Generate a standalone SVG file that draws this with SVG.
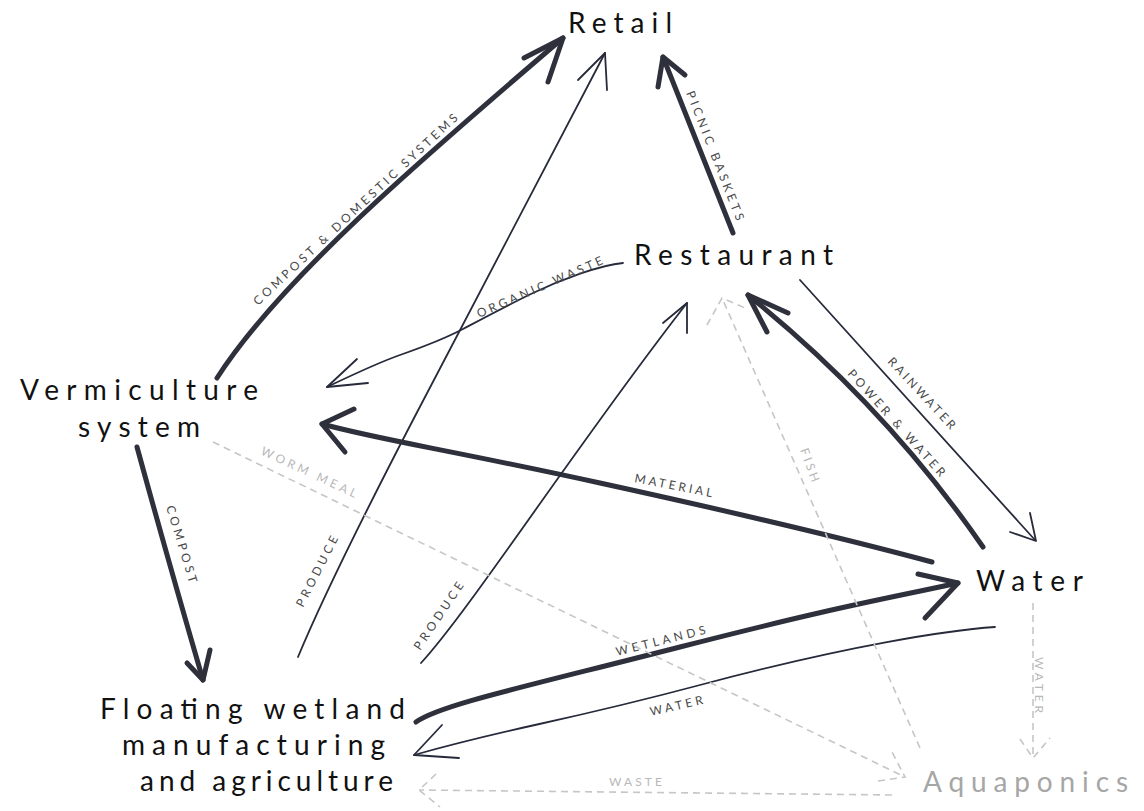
<svg xmlns="http://www.w3.org/2000/svg" width="1144" height="811" viewBox="0 0 1144 811">
<style>
.node{font-family:Lato,"Open Sans","Liberation Sans",sans-serif;font-size:28px;fill:#111}
.aqua{fill:#a6a6a6}
.lbl{font-family:Lato,"Open Sans","Liberation Sans",sans-serif;font-size:12px;fill:#4a4a4a}
.dlbl{font-family:Lato,"Open Sans","Liberation Sans",sans-serif;font-size:12px;fill:#b8b8b8}
.thick{fill:none;stroke:#2e303c;stroke-width:5;stroke-linecap:round;stroke-linejoin:round}
.thin{fill:none;stroke:#262a3a;stroke-width:1.8;stroke-linecap:round;stroke-linejoin:round}
.dash{fill:none;stroke:#c6c6c6;stroke-width:1.6;stroke-dasharray:7 5}
</style>
<rect width="1144" height="811" fill="#ffffff"/>
<g id="connectors">
  <g id="c-compost-domestic">
    <path class="thick" d="M217,378 C280,280 420,160 563,38"/>
    <path class="thick" d="M524,58 L563,38 L548,82"/>
    <text class="lbl" transform="translate(258,306) rotate(-43)" textLength="274" lengthAdjust="spacing">COMPOST &amp; DOMESTIC SYSTEMS</text>
  </g>
  <g id="c-produce-retail">
    <path class="thin" d="M298,657 Q330,580 413,420 T605,53"/>
    <path class="thin" d="M578,80 L605,53 L607,90"/>
    <text class="lbl" transform="translate(303,608) rotate(-63)" textLength="78" lengthAdjust="spacing">PRODUCE</text>
  </g>
  <g id="c-picnic">
    <path class="thick" d="M733,233 L663,57"/>
    <path class="thick" d="M658,87 L663,57 L685,75"/>
    <text class="lbl" transform="translate(686,93) rotate(68.5)" textLength="138" lengthAdjust="spacing">PICNIC BASKETS</text>
  </g>
  <g id="c-organic">
    <path class="thin" d="M623,263 C600,265 560,280 533,293 S480,320 463,329 S420,348 400,355 S350,376 327,387"/>
    <path class="thin" d="M357,359 L327,387 L368,383"/>
    <text class="lbl" transform="translate(479,318) rotate(-23.5)" textLength="136" lengthAdjust="spacing">ORGANIC WASTE</text>
  </g>
  <g id="c-rainwater">
    <path class="thin" d="M800,280 L1035,540"/>
    <path class="thin" d="M1030,513 L1036,541 L1010,532"/>
    <text class="lbl" transform="translate(887,362) rotate(47)" textLength="93" lengthAdjust="spacing">RAINWATER</text>
  </g>
  <g id="c-power">
    <path class="thick" d="M983,547 Q885,405 748,295"/>
    <path class="thick" d="M788,313 L748,295 L767,332"/>
    <text class="lbl" transform="translate(847,374) rotate(48)" textLength="139" lengthAdjust="spacing">POWER &amp; WATER</text>
  </g>
  <g id="c-material">
    <path class="thick" d="M932,562 C880,548 760,518 600,483 S380,440 322,424"/>
    <path class="thick" d="M354,409 L322,424 L345,452"/>
    <text class="lbl" transform="translate(634,482) rotate(11)" textLength="79" lengthAdjust="spacing">MATERIAL</text>
  </g>
  <g id="c-compost">
    <path class="thick" d="M137,447 Q168,560 203,680"/>
    <path class="thick" d="M187,663 L203,680 L210,650"/>
    <text class="lbl" transform="translate(166,507) rotate(73)" textLength="80" lengthAdjust="spacing">COMPOST</text>
  </g>
  <g id="c-wetlands">
    <path class="thick" d="M416,722 C440,705 520,688 680,647 S880,600 958,583"/>
    <path class="thick" d="M918,574 L958,583 L925,618"/>
    <text class="lbl" transform="translate(617,656) rotate(-14)" textLength="92" lengthAdjust="spacing">WETLANDS</text>
  </g>
  <g id="c-water-floating">
    <path class="thin" d="M995,627 C950,630 850,645 700,685 S520,725 414,755"/>
    <path class="thin" d="M442,725 L414,755 L459,758"/>
    <text class="lbl" transform="translate(651,716) rotate(-13)" textLength="54" lengthAdjust="spacing">WATER</text>
  </g>
  <g id="c-produce-restaurant">
    <path class="thin" d="M421,663 C470,610 580,440 687,303"/>
    <path class="thin" d="M663,323 L687,303 L687,333"/>
    <text class="lbl" transform="translate(420,651) rotate(-56)" textLength="79" lengthAdjust="spacing">PRODUCE</text>
  </g>
  <g id="c-wormmeal">
    <path class="dash" d="M213,442 L905,777"/>
    <path class="dash" d="M878,781 L905,777 L892,752"/>
    <text class="dlbl" transform="translate(260,454) rotate(25)" textLength="104" lengthAdjust="spacing">WORM MEAL</text>
  </g>
  <g id="c-fish">
    <path class="dash" d="M920,748 L722,298"/>
    <path class="dash" d="M707,325 L722,298 L745,308"/>
    <text class="dlbl" transform="translate(800,450) rotate(70)" textLength="35" lengthAdjust="spacing">FISH</text>
  </g>
  <g id="c-water-aqua">
    <path class="dash" d="M1033,603 L1033,758"/>
    <path class="dash" d="M1020,739 L1033,758 L1050,738"/>
    <text class="dlbl" transform="translate(1035,657) rotate(90)" textLength="56" lengthAdjust="spacing">WATER</text>
  </g>
  <g id="c-waste">
    <path class="dash" d="M892,795 L419,790"/>
    <path class="dash" d="M436,774 L419,790 L440,807"/>
    <text class="dlbl" x="609" y="786" textLength="53" lengthAdjust="spacing">WASTE</text>
  </g>
</g>
<g id="node-retail"><text class="node" x="568" y="33" textLength="104" lengthAdjust="spacing">Retail</text></g>
<g id="node-restaurant"><text class="node" x="634" y="265" textLength="199" lengthAdjust="spacing">Restaurant</text></g>
<g id="node-vermiculture">
  <text class="node" x="20" y="400" textLength="238" lengthAdjust="spacing">Vermiculture</text>
  <text class="node" x="78" y="437" textLength="122" lengthAdjust="spacing">system</text>
</g>
<g id="node-water"><text class="node" x="976" y="591" textLength="107" lengthAdjust="spacing">Water</text></g>
<g id="node-floating">
  <text class="node" x="100" y="719" textLength="305" lengthAdjust="spacing">Floating wetland</text>
  <text class="node" x="122" y="755" textLength="263" lengthAdjust="spacing">manufacturing</text>
  <text class="node" x="140" y="791" textLength="253" lengthAdjust="spacing">and agriculture</text>
</g>
<g id="node-aquaponics"><text class="node aqua" x="923" y="792" textLength="205" lengthAdjust="spacing">Aquaponics</text></g>
</svg>
